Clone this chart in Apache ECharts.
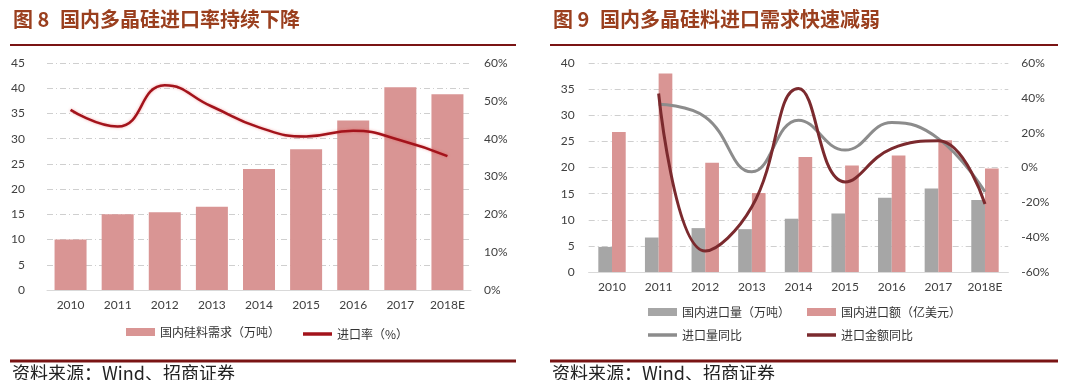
<!DOCTYPE html>
<html><head><meta charset="utf-8">
<script src="https://cdn.jsdelivr.net/npm/echarts@6/dist/echarts.min.js"></script>
<style>html,body{margin:0;padding:0;background:#fff}#c{width:1080px;height:380px}</style>
</head><body><div id="c"></div>
<script>
// ---- data ----
const years = ['2010','2011','2012','2013','2014','2015','2016','2017','2018E'];
// Figure 8
const demand = [10.0, 15.0, 15.4, 16.5, 24.0, 27.9, 33.6, 40.2, 38.8];      // 国内硅料需求（万吨）
const importRate = [47.6, 43.2, 54.1, 48.5, 43.0, 40.6, 42.1, 39.6, 35.4];  // 进口率（%）
// Figure 9
const importVol = [4.8, 6.6, 8.4, 8.2, 10.2, 11.2, 14.2, 16.0, 13.8];       // 国内进口量（万吨）
const importVal = [26.8, 38.0, 20.9, 15.1, 22.0, 20.4, 22.3, 25.2, 19.8];   // 国内进口额（亿美元）
const volYoY = [null, 36.3, 29.0, -2.5, 27.2, 10.0, 25.8, 16.6, -14.0];     // 进口量同比 %
const valYoY = [null, 42.5, -48.0, -22.6, 45.3, -8.3, 10.9, 15.3, -21.0];   // 进口金额同比 %
// axis ranges
const f8Left = {min: 0, max: 45, interval: 5};
const f8Right = {min: 0, max: 60, interval: 10};
const f9Left = {min: 0, max: 40, interval: 5};
const f9Right = {min: -60, max: 60, interval: 20};

const FONT = 'Lato';
const CJK = 'Noto Sans CJK SC';
const labelColor = '#404040';
const gridLine = {show: true, lineStyle: {color: '#CFCFCF', width: 1, type: [6, 3, 1, 3]}};
const pink = '#D99594', grey = '#A6A6A6';
const rateRed = '#A3131B', volGrey = '#8C8C8C', valRed = '#7B2A2E';

const chart = echarts.init(document.getElementById('c'), null, {renderer: 'canvas'});

function xAx(gi) {
  return {
    type: 'category', gridIndex: gi, data: years,
    axisLine: {lineStyle: {color: '#D9D9D9'}}, axisTick: {show: false},
    axisLabel: {color: labelColor, fontFamily: FONT, fontSize: 12, margin: 9}
  };
}
function yAx(gi, r, pos, pct, margin, split) {
  return {
    type: 'value', gridIndex: gi, position: pos, min: r.min, max: r.max, interval: r.interval,
    axisLine: {show: false}, axisTick: {show: false},
    splitLine: split ? gridLine : {show: false},
    axisLabel: {color: labelColor, fontFamily: FONT, fontSize: 12, margin: margin,
      formatter: pct ? '{value}%' : '{value}'}
  };
}
function legendItem(name, left, top, isLine, color) {
  return {
    data: [{name: name, icon: 'rect', itemStyle: {color: color}}],
    left: left, top: top, itemWidth: 29, itemHeight: isLine ? 3.5 : 8, itemGap: 0,
    textStyle: {fontFamily: CJK, fontSize: 12, color: '#333'}, selectedMode: false,
    padding: 0
  };
}
function text(str, x, y, size, color, weight) {
  return {type: 'text', left: x, top: y, style: {text: str, fontFamily: CJK, fontSize: size,
    fontWeight: weight || 'normal', fill: color}};
}
function rule(x1, x2, y, w) {
  return {type: 'line', shape: {x1: x1, y1: y, x2: x2, y2: y}, style: {stroke: '#7A1414', lineWidth: w}};
}

chart.setOption({
  animation: false,
  backgroundColor: '#fff',
  grid: [
    {left: 47, right: 1080 - 471, top: 63, height: 227},
    {left: 588.7, right: 1080 - 1008.3, top: 63, height: 209}
  ],
  xAxis: [xAx(0), xAx(1)],
  yAxis: [
    yAx(0, f8Left, 'left', false, 22, true),
    yAx(0, f8Right, 'right', true, 13, false),
    yAx(1, f9Left, 'left', false, 14, true),
    yAx(1, f9Right, 'right', true, 13, false)
  ],
  legend: [
    legendItem('国内硅料需求（万吨）', 126, 326, false, pink),
    legendItem('进口率（%）', 303, 328, true, rateRed),
    legendItem('国内进口量（万吨）', 648, 306, false, grey),
    legendItem('国内进口额（亿美元）', 807, 306, false, pink),
    legendItem('进口量同比', 648, 329, true, volGrey),
    legendItem('进口金额同比', 807, 329, true, valRed)
  ],
  series: [
    {name: '国内硅料需求（万吨）', type: 'bar', xAxisIndex: 0, yAxisIndex: 0, data: demand,
      barWidth: 32, itemStyle: {color: pink}},
    {name: '进口率（%）', type: 'line', xAxisIndex: 0, yAxisIndex: 1, data: importRate,
      smooth: true, symbol: 'none',
      lineStyle: {color: rateRed, width: 2.5, shadowColor: 'rgba(230,60,60,0.45)', shadowBlur: 3},
      itemStyle: {color: rateRed}},
    {name: '国内进口量（万吨）', type: 'bar', xAxisIndex: 1, yAxisIndex: 2, data: importVol,
      barWidth: 13.7, barGap: '0%', itemStyle: {color: grey}},
    {name: '国内进口额（亿美元）', type: 'bar', xAxisIndex: 1, yAxisIndex: 2, data: importVal,
      barWidth: 13.7, barGap: '0%', itemStyle: {color: pink}},
    {name: '进口量同比', type: 'line', xAxisIndex: 1, yAxisIndex: 3, data: volYoY,
      smooth: 0.45, symbol: 'none', lineStyle: {color: volGrey, width: 3}, itemStyle: {color: volGrey}},
    {name: '进口金额同比', type: 'line', xAxisIndex: 1, yAxisIndex: 3, data: valYoY,
      smooth: 0.45, symbol: 'none', lineStyle: {color: valRed, width: 3}, itemStyle: {color: valRed}}
  ],
  graphic: [
    text('图 8', 13, 9, 20, '#9A3F1E', 'bold'),
    text('国内多晶硅进口率持续下降', 60, 9, 20, '#9A3F1E', 'bold'),
    text('图 9', 553, 9, 20, '#9A3F1E', 'bold'),
    text('国内多晶硅料进口需求快速减弱', 600, 9, 20, '#9A3F1E', 'bold'),
    rule(10, 516, 45, 2),
    rule(550, 1058, 45, 2),
    rule(10, 516, 361, 3),
    rule(550, 1058, 361, 3),
    text('资料来源：Wind、招商证券', 12, 364, 18, '#222'),
    text('资料来源：Wind、招商证券', 552, 364, 18, '#222')
  ]
});
</script>
</body></html>
